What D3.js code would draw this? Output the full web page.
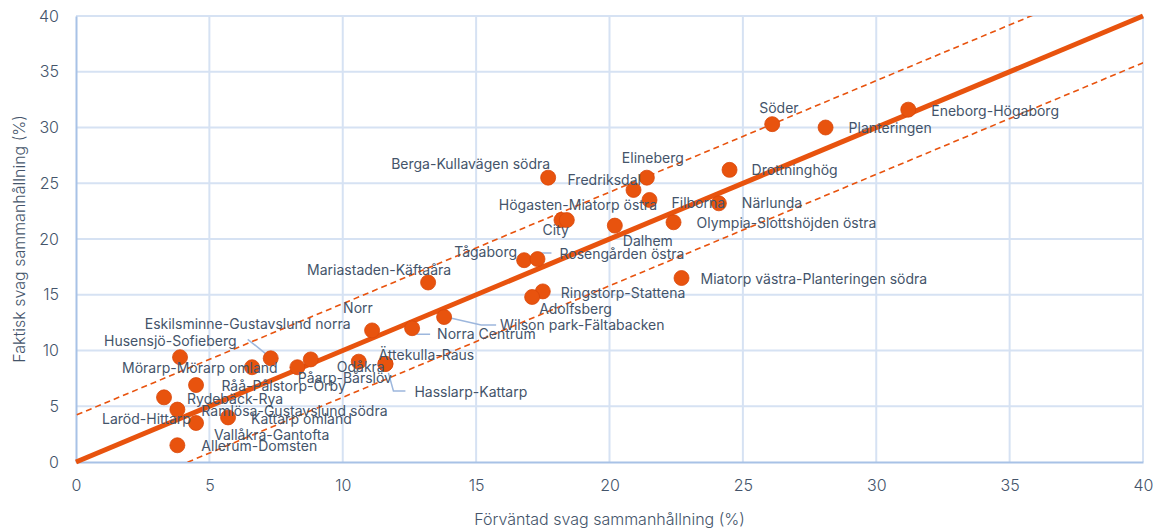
<!DOCTYPE html>
<html>
<head>
<meta charset="utf-8">
<script src="https://cdn.jsdelivr.net/npm/d3@7"></script>
<style>
  html, body { margin: 0; padding: 0; background: #fff; }
  svg { display: block; font-family: "Inter", "Open Sans", sans-serif; }
</style>
</head>
<body>
<svg id="chart" width="1161" height="529"></svg>
<script>
// Districts: expected vs. actual share with weak cohesion (%)
const districts = [
  "Eneborg-Högaborg", "Söder", "Planteringen", "Drottninghög", "Elineberg",
  "Berga-Kullavägen södra", "Fredriksdal", "Filborna", "Närlunda",
  "Olympia-Slottshöjden östra", "Dalhem", "City", "Högasten-Miatorp östra",
  "Tågaborg", "Rosengården östra", "Mariastaden-Käftaåra",
  "Miatorp västra-Planteringen södra", "Ringstorp-Stattena", "Adolfsberg",
  "Wilson park-Fältabacken", "Norra Centrum", "Norr",
  "Eskilsminne-Gustavslund norra", "Husensjö-Sofieberg", "Mörarp-Mörarp omland",
  "Odåkra", "Påarp-Bårslöv", "Råå-Pålstorp-Örby", "Rydebäck-Rya",
  "Ramlösa-Gustavslund södra", "Laröd-Hittarp", "Kattarp omland",
  "Vallåkra-Gantofta", "Allerum-Domsten", "Ättekulla-Raus", "Hasslarp-Kattarp"
];
const expected = [
  31.2, 26.1, 28.1, 24.5, 21.4,
  17.7, 20.9, 21.5, 24.1,
  22.4, 20.2, 18.2, 18.4,
  16.8, 17.3, 13.2,
  22.7, 17.5, 17.1,
  13.8, 12.6, 11.1,
  7.3, 3.9, 6.6,
  10.6, 8.8, 8.3, 4.5,
  3.8, 3.3, 5.7,
  4.5, 3.8, 11.6, 11.6
];
const actual = [
  31.6, 30.3, 30.0, 26.2, 25.5,
  25.5, 24.4, 23.5, 23.2,
  21.5, 21.2, 21.7, 21.7,
  18.1, 18.2, 16.1,
  16.5, 15.3, 14.8,
  13.0, 12.0, 11.8,
  9.3, 9.4, 8.5,
  9.0, 9.2, 8.5, 6.9,
  4.7, 5.8, 4.0,
  3.5, 1.5, 8.8, 8.8
];
const bandWidth = 4.2;          // dashed band: actual = expected ± 4.2
const xTicks = [0, 5, 10, 15, 20, 25, 30, 35, 40];
const yTicks = [0, 5, 10, 15, 20, 25, 30, 35, 40];
const xTitle = "Förväntad svag sammanhållning (%)";
const yTitle = "Faktisk svag sammanhållning (%)";

// Label placement (pixel offset of label's left/middle from its marker)
const labelOffsets = [
  [23, 1], [-13, -16], [23, 1], [22, 0], [-25, -20],
  [-157, -14], [-66, -10], [22, 3], [23, 0],
  [23, 1], [8, 15], [-19, 10], [-68, -15],
  [-70, -8], [22, -5], [-121, -12],
  [19, 1], [18, 2], [7, 12],
  [56, 8], [25, 6], [-29, -22],
  [-126, -34], [-76, -16], [-130, 1],
  [-22, 5], [-13, 19], [-76, 19], [-9, 14],
  [24, 2], [-62, 22], [23, 2],
  [18, 12], [24, 1], [-7, -9], [29, 28]
];
// Leader lines (pixel offsets from marker), keyed by district
const leaders = {
  "Rosengården östra": [[0, -4], [0, -6], [14, -6]],
  "Wilson park-Fältabacken": [[2, 0], [37, 8], [52, 8]],
  "Norra Centrum": [[2, 3], [5, 6], [18, 6]],
  "Eskilsminne-Gustavslund norra": [[-23, -19], [-3, -3]],
  "Hasslarp-Kattarp": [[3, 9], [8, 27], [20, 27]]
};

const colors = {
  accent: "#E8530E",
  grid: "#D6E2F3",
  axis: "#A8C2E6",
  text: "#44546A",
  leader: "#9DB7DD"
};

const svg = d3.select("#chart");
const margin = { left: 76, right: 18, top: 16, bottom: 67 };
const W = +svg.attr("width"), H = +svg.attr("height");

const x = d3.scaleLinear().domain([0, 40]).range([margin.left, W - margin.right]);
const y = d3.scaleLinear().domain([0, 40]).range([H - margin.bottom, margin.top]);

// Grid
const grid = svg.append("g");
grid.selectAll("line.v").data(xTicks.slice(1)).join("line")
  .attr("x1", d => x(d)).attr("x2", d => x(d))
  .attr("y1", y(0)).attr("y2", y(40))
  .attr("stroke", colors.grid).attr("stroke-width", 2);
grid.selectAll("line.h").data(yTicks.slice(1)).join("line")
  .attr("x1", x(0)).attr("x2", x(40))
  .attr("y1", d => y(d)).attr("y2", d => y(d))
  .attr("stroke", colors.grid).attr("stroke-width", 2);

// Axes
const xAxis = d3.axisBottom(x).tickValues(xTicks).tickSize(0).tickPadding(18);
const yAxis = d3.axisLeft(y).tickValues(yTicks).tickSize(0).tickPadding(17);
const gx = svg.append("g").attr("transform", `translate(0,${y(0)})`).call(xAxis);
const gy = svg.append("g").attr("transform", `translate(${x(0)},0)`).call(yAxis);
[gx, gy].forEach(g => {
  g.select(".domain").attr("stroke", colors.axis).attr("stroke-width", 2);
  g.selectAll("text").attr("fill", colors.text).attr("font-size", 16)
    .attr("font-weight", 300).attr("font-family", "Inter, sans-serif");
});

// Reference lines
const clipId = "plot-clip";
svg.append("clipPath").attr("id", clipId).append("rect")
  .attr("x", x(0)).attr("y", y(40)).attr("width", x(40) - x(0)).attr("height", y(0) - y(40));
const refs = svg.append("g").attr("clip-path", `url(#${clipId})`);
const line = d3.line().x(d => x(d[0])).y(d => y(d[1]));
[bandWidth, -bandWidth].forEach(off => {
  refs.append("path")
    .attr("d", line([[-10, -10 + off], [50, 50 + off]]))
    .attr("fill", "none").attr("stroke", colors.accent)
    .attr("stroke-width", 1.6).attr("stroke-dasharray", "6,4");
});
svg.append("path")
  .attr("d", line([[0, 0], [40, 40]]))
  .attr("fill", "none").attr("stroke", colors.accent).attr("stroke-width", 5);

const pts = districts.map((name, i) => ({
  name, ex: expected[i], ac: actual[i], off: labelOffsets[i]
}));

// Leader lines
svg.append("g").selectAll("path").data(pts.filter(p => leaders[p.name])).join("path")
  .attr("d", p => d3.line()(leaders[p.name].map(o => [x(p.ex) + o[0], y(p.ac) + o[1]])))
  .attr("fill", "none").attr("stroke", colors.leader).attr("stroke-width", 1.5);

// Markers
svg.append("g").selectAll("circle").data(pts).join("circle")
  .attr("cx", p => x(p.ex)).attr("cy", p => y(p.ac)).attr("r", 7.5)
  .attr("fill", colors.accent).attr("stroke", "#D9480A").attr("stroke-width", 0.8);

// Labels
svg.append("g").selectAll("text").data(pts).join("text")
  .attr("x", p => x(p.ex) + p.off[0]).attr("y", p => y(p.ac) + p.off[1])
  .attr("dy", "0.35em").attr("fill", colors.text)
  .attr("font-size", 14).attr("font-weight", 400)
  .text(p => p.name);

// Axis titles
svg.append("text").attr("x", (x(0) + x(40)) / 2).attr("y", 519)
  .attr("text-anchor", "middle").attr("dy", "0.35em")
  .attr("fill", colors.text).attr("font-size", 16).attr("font-weight", 300)
  .text(xTitle);
svg.append("text").attr("transform", `translate(19,${(y(0) + y(40)) / 2}) rotate(-90)`)
  .attr("text-anchor", "middle").attr("dy", "0.35em")
  .attr("fill", colors.text).attr("font-size", 16).attr("font-weight", 300)
  .text(yTitle);
</script>
</body>
</html>
